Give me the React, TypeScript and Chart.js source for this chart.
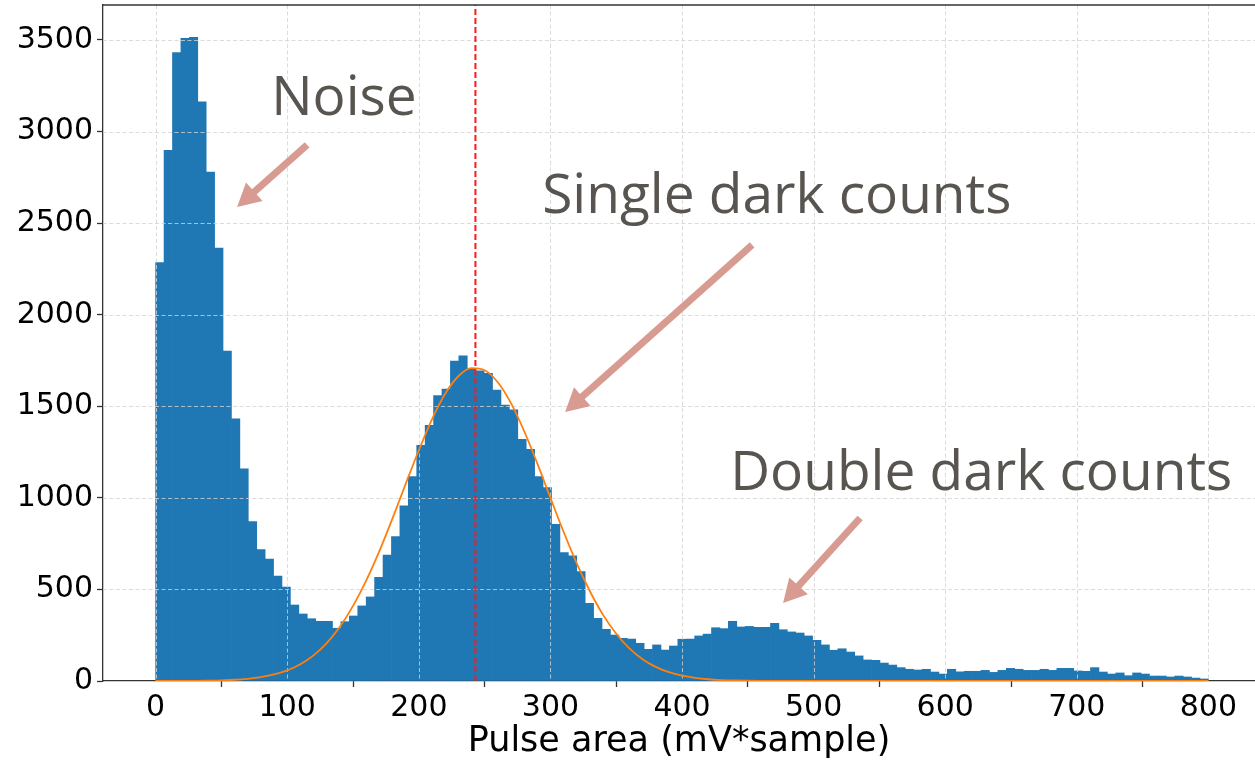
import React, { useEffect, useRef } from "react";
import { Chart, registerables } from "chart.js";

Chart.register(...registerables);

// ---------- data ----------
const binStart = 0;
const binWidth = 6.4;
const binCounts = [
  2284, 2898, 3431, 3509, 3515, 3162, 2779, 2364, 1802, 1432,
  1159, 870, 717, 666, 573, 513, 415, 366, 340, 326,
  326, 288, 324, 355, 410, 459, 566, 688, 788, 957,
  1116, 1287, 1396, 1558, 1594, 1747, 1775, 1702, 1693, 1680,
  1589, 1507, 1480, 1320, 1265, 1116, 1056, 855, 701, 683,
  597, 424, 342, 282, 251, 233, 229, 206, 173, 197,
  169, 191, 228, 229, 246, 256, 291, 286, 326, 295,
  298, 293, 293, 315, 280, 268, 262, 246, 222, 197,
  168, 176, 158, 137, 115, 113, 98, 87, 73, 64,
  60, 64, 49, 38, 64, 50, 53, 53, 58, 47,
  58, 69, 64, 58, 58, 64, 58, 69, 69, 55,
  53, 73, 49, 38, 44, 29, 44, 38, 27, 27,
  22, 27, 22, 16, 11,
];

const fitX = [
  0, 10, 20, 30, 40, 50, 60, 70, 80, 90,
  100, 110, 120, 130, 140, 150, 160, 170, 180, 190,
  200, 210, 220, 230, 240, 250, 260, 270, 280, 290,
  300, 310, 320, 330, 340, 350, 360, 370, 380, 390,
  400, 410, 420, 430, 440, 450, 460, 470, 480, 500,
  600, 700, 800,
];
const fitY = [
  0.1, 0.2, 0.5, 0.9, 1.9, 3.6, 6.7, 12.1, 21.2, 35.7,
  58.2, 91.9, 140, 207, 296, 410, 548, 709, 888, 1076,
  1260, 1429, 1568, 1664, 1708, 1697, 1631, 1517, 1365, 1188,
  1000, 815, 642, 490, 361, 258, 178, 119, 77, 48,
  29, 17, 9.6, 5.3, 2.8, 1.4, 0.7, 0.35, 0.2, 0.05,
  0, 0, 0,
];

const meanValue = 243;
const xTicks = [0, 100, 200, 300, 400, 500, 600, 700, 800];
const yTicks = [0, 500, 1000, 1500, 2000, 2500, 3000, 3500];
const xMin = -40;
const xMax = 835.4;
const yMax = 3691;
const xTitle = "Pulse area (mV*sample)";

const noteTexts = ["Noise", "Single dark counts", "Double dark counts"];
const noteTextAt = [
  [87.8, 3090],
  [293.7, 2555],
  [436.6, 1043],
];
const arrowTails = [
  [115.1, 2927],
  [453.3, 2381],
  [535.3, 890],
];
const arrowTips = [
  [61.9, 2588],
  [311.2, 1469],
  [476.8, 426],
];

// ---------- styles ----------
const BAR_COLOR = "#1f77b4";
const FIT_COLOR = "#ff7f0e";
const MEAN_COLOR = "#ff1a1a";
const GRID_COLOR = "rgba(210,210,210,0.8)";
const SPINE_COLOR = "#333333";
const NOTE_COLOR = "#58544f";
const ARROW_COLOR = "#d79b91";
const TICK_FONT = { family: "'DejaVu Sans', sans-serif", size: 30 };

function drawArrow(ctx: CanvasRenderingContext2D, x1: number, y1: number, x2: number, y2: number) {
  const ang = Math.atan2(y2 - y1, x2 - x1);
  const headLen = 23;
  const headHalf = 12.5;
  const c = Math.cos(ang);
  const s = Math.sin(ang);
  const bx = x2 - headLen * c;
  const by = y2 - headLen * s;
  ctx.strokeStyle = ARROW_COLOR;
  ctx.fillStyle = ARROW_COLOR;
  ctx.lineWidth = 7;
  ctx.lineCap = "butt";
  ctx.setLineDash([]);
  ctx.beginPath();
  ctx.moveTo(x1, y1);
  ctx.lineTo(bx + 2 * c, by + 2 * s);
  ctx.stroke();
  ctx.beginPath();
  ctx.moveTo(x2, y2);
  ctx.lineTo(bx + headHalf * s, by - headHalf * c);
  ctx.lineTo(bx - headHalf * s, by + headHalf * c);
  ctx.closePath();
  ctx.fill();
}

const overlayPlugin = {
  id: "overlay",
  afterDatasetDraw(chart: any, args: any) {
    if (args.meta.type !== "bar") return;
    const { ctx, chartArea: a, scales } = chart;
    ctx.save();
    ctx.beginPath();
    ctx.rect(a.left, a.top, a.right - a.left, a.bottom - a.top);
    ctx.clip();
    ctx.strokeStyle = GRID_COLOR;
    ctx.lineWidth = 1;
    ctx.setLineDash([4, 2.5]);
    for (const t of scales.x.ticks) {
      const px = Math.round(scales.x.getPixelForValue(t.value)) + 0.5;
      ctx.beginPath();
      ctx.moveTo(px, a.top);
      ctx.lineTo(px, a.bottom);
      ctx.stroke();
    }
    for (const t of scales.y.ticks) {
      const py = Math.round(scales.y.getPixelForValue(t.value)) + 0.5;
      ctx.beginPath();
      ctx.moveTo(a.left, py);
      ctx.lineTo(a.right, py);
      ctx.stroke();
    }
    ctx.restore();
  },
  afterDraw(chart: any) {
    const { ctx, chartArea: a, scales } = chart;
    ctx.save();
    // top spine
    ctx.strokeStyle = SPINE_COLOR;
    ctx.lineWidth = 1.3;
    ctx.beginPath();
    ctx.moveTo(a.left, a.top);
    ctx.lineTo(a.right, a.top);
    ctx.stroke();
    // arrows
    for (let i = 0; i < arrowTails.length; i++) {
      drawArrow(
        ctx,
        scales.x.getPixelForValue(arrowTails[i][0]),
        scales.y.getPixelForValue(arrowTails[i][1]),
        scales.x.getPixelForValue(arrowTips[i][0]),
        scales.y.getPixelForValue(arrowTips[i][1])
      );
    }
    // notes
    ctx.fillStyle = NOTE_COLOR;
    ctx.font = "55px 'Open Sans', sans-serif";
    ctx.textAlign = "left";
    ctx.textBaseline = "alphabetic";
    for (let i = 0; i < noteTexts.length; i++) {
      ctx.fillText(
        noteTexts[i],
        scales.x.getPixelForValue(noteTextAt[i][0]),
        scales.y.getPixelForValue(noteTextAt[i][1])
      );
    }
    ctx.restore();
  },
};

export default function App() {
  const canvasRef = useRef<HTMLCanvasElement | null>(null);

  useEffect(() => {
    document.body.style.margin = "0";
    const canvas = canvasRef.current;
    if (!canvas) return;

    const barData = binCounts.map((v, i) => ({ x: binStart + binWidth * (i + 0.5), y: v }));
    const fitData = fitX.map((x, i) => ({ x, y: fitY[i] }));
    const meanData = [
      { x: meanValue, y: 0 },
      { x: meanValue, y: yMax },
    ];

    const chart = new Chart(canvas, {
      type: "bar",
      data: {
        datasets: [
          {
            type: "bar",
            data: barData as any,
            backgroundColor: BAR_COLOR,
            borderWidth: 0,
            barPercentage: 1,
            categoryPercentage: 1,
            grouped: false,
            order: 3,
          } as any,
          {
            type: "line",
            data: fitData as any,
            borderColor: FIT_COLOR,
            borderWidth: 1.8,
            pointRadius: 0,
            fill: false,
            cubicInterpolationMode: "monotone",
            order: 2,
          } as any,
          {
            type: "line",
            data: meanData as any,
            borderColor: MEAN_COLOR,
            borderWidth: 2,
            borderDash: [6, 3],
            pointRadius: 0,
            fill: false,
            order: 1,
          } as any,
        ],
      },
      options: {
        responsive: false,
        animation: false,
        devicePixelRatio: 1,
        layout: { padding: { top: 5, right: 0, left: 0, bottom: 0 } },
        plugins: {
          legend: { display: false },
          tooltip: { enabled: false },
        },
        scales: {
          x: {
            type: "linear",
            min: xMin,
            max: xMax,
            offset: false,
            afterBuildTicks: (scale: any) => {
              scale.ticks = xTicks.map((v) => ({ value: v }));
            },
            afterFit: (scale: any) => {
              scale.height = 79;
              scale.paddingLeft = 0;
              scale.paddingRight = 0;
            },
            grid: {
              display: true,
              drawOnChartArea: false,
              drawTicks: true,
              tickLength: 6,
              tickColor: SPINE_COLOR,
              tickWidth: 1.3,
            },
            border: { display: true, color: SPINE_COLOR, width: 1.3 },
            ticks: {
              autoSkip: false,
              maxRotation: 0,
              padding: 3,
              color: "#000",
              font: TICK_FONT,
              callback: (v: any) => String(v),
            },
            title: {
              display: true,
              text: xTitle,
              color: "#000",
              font: { family: "'DejaVu Sans', sans-serif", size: 35, lineHeight: 1.0 },
              padding: { top: 0, bottom: 1 },
            },
          },
          y: {
            type: "linear",
            min: 0,
            max: yMax,
            afterBuildTicks: (scale: any) => {
              scale.ticks = yTicks.map((v) => ({ value: v }));
            },
            afterFit: (scale: any) => {
              scale.width = 103;
              scale.paddingTop = 0;
              scale.paddingBottom = 0;
            },
            grid: {
              display: true,
              drawOnChartArea: false,
              drawTicks: true,
              tickLength: 6,
              tickColor: SPINE_COLOR,
              tickWidth: 1.3,
            },
            border: { display: true, color: SPINE_COLOR, width: 1.3 },
            ticks: {
              autoSkip: false,
              padding: 4,
              color: "#000",
              font: TICK_FONT,
              callback: (v: any) => String(v),
            },
          },
        },
      },
      plugins: [overlayPlugin],
    } as any);

    return () => chart.destroy();
  }, []);

  return (
    <div style={{ width: 1255, height: 760, background: "#fff" }}>
      <canvas ref={canvasRef} width={1255} height={760} style={{ display: "block" }} />
    </div>
  );
}
